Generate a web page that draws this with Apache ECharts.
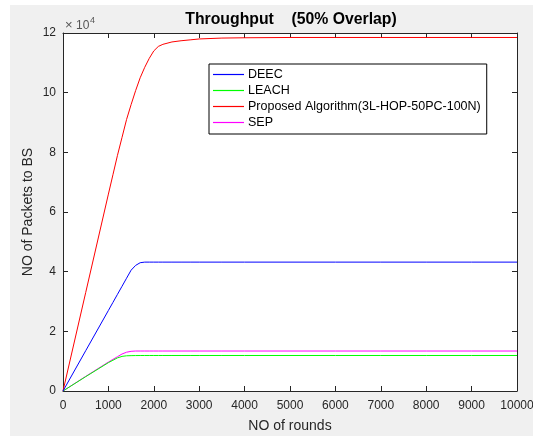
<!DOCTYPE html>
<html>
<head>
<meta charset="utf-8">
<script src="https://cdn.jsdelivr.net/npm/echarts@6/dist/echarts.min.js"></script>
<style>
html,body{margin:0;padding:0;background:#fff;}
#c{width:533px;height:436px;}
</style>
</head>
<body>
<div id="c"></div>
<script>
const rounds = [0, 500, 1000, 1100, 1200, 1300, 1400, 1500, 1600, 1700, 1800, 1900, 2000, 2100, 2200, 2400, 2600, 2800, 3000, 3500, 4000, 5000, 6000, 7000, 8000, 9000, 10000];
const deec     = [0, 13500, 27000, 29700, 32400, 35100, 37800, 40500, 42100, 43000, 43200, 43200, 43200, 43200, 43200, 43200, 43200, 43200, 43200, 43200, 43200, 43200, 43200, 43200, 43200, 43200, 43200];
const leach    = [0, 4800, 9500, 10300, 11100, 11600, 11800, 11850, 11880, 11890, 11900, 11900, 11900, 11900, 11900, 11900, 11900, 11900, 11900, 11900, 11900, 11900, 11900, 11900, 11900, 11900, 11900];
const proposed = [0, 33000, 66000, 72500, 79000, 85000, 91000, 96000, 100700, 105000, 108500, 111500, 114000, 115500, 116200, 117000, 117400, 117700, 118000, 118300, 118400, 118500, 118500, 118500, 118500, 118500, 118500];
const sep      = [0, 4900, 9700, 10600, 11500, 12400, 13000, 13300, 13400, 13400, 13400, 13400, 13400, 13400, 13400, 13400, 13400, 13400, 13400, 13400, 13400, 13400, 13400, 13400, 13400, 13400, 13400];
const seriesNames = ['DEEC', 'LEACH', 'Proposed Algorithm(3L-HOP-50PC-100N)', 'SEP'];
const seriesColors = ['#0000ff', '#00ff00', '#ff0000', '#ff00ff'];
const seriesValues = [deec, leach, proposed, sep];
const xTicks = [0, 10000, 1000];
const yTicks = [0, 120000, 20000];

const chart = echarts.init(document.getElementById('c'), null, {renderer: 'canvas'});
const font = 'Liberation Sans, Arial, Helvetica, sans-serif';
const axisColor = '#262626';

const series = seriesNames.map((n, i) => ({
  name: n,
  type: 'line',
  showSymbol: false,
  symbol: 'none',
  smooth: false,
  color: seriesColors[i],
  itemStyle: {color: seriesColors[i]},
  lineStyle: {width: 1, color: seriesColors[i]},
  data: rounds.map((r, j) => [r, seriesValues[i][j]]),
  z: 10 - i
}));

function tick() { return {show: true, inside: true, length: 5, lineStyle: {color: axisColor, width: 1}}; }
function line() { return {show: true, onZero: false, lineStyle: {color: axisColor, width: 1}}; }

chart.setOption({
  animation: false,
  backgroundColor: '#ffffff',
  textStyle: {fontFamily: font},
  graphic: [
    {type: 'rect', shape: {x: 10, y: 5, width: 523, height: 431}, style: {fill: '#f0f0f0'}, z: -100, silent: true},
    {type: 'text', x: 291, y: 20, style: {text: 'Throughput    (50% Overlap)', fontFamily: font, fontSize: 15.8, fontWeight: 'bold', fill: '#000', align: 'center', verticalAlign: 'middle'}, z: 50},
    {type: 'text', x: 65, y: 31.5, style: {text: '×', fontFamily: font, fontSize: 13, fill: '#555', align: 'left', verticalAlign: 'bottom'}, z: 50},
    {type: 'text', x: 76, y: 31.5, style: {text: '10', fontFamily: font, fontSize: 12, fill: '#555', align: 'left', verticalAlign: 'bottom'}, z: 50},
    {type: 'text', x: 90, y: 25.5, style: {text: '4', fontFamily: font, fontSize: 9, fill: '#555', align: 'left', verticalAlign: 'bottom'}, z: 50}
  ],
  legend: {
    orient: 'vertical',
    left: 209, top: 64,
    backgroundColor: '#fff',
    borderColor: '#000', borderWidth: 1,
    padding: [4, 6, 5, 4],
    itemGap: 3,
    itemWidth: 31, itemHeight: 1.2,
    icon: 'rect',
    itemStyle: {borderWidth: 0},
    textStyle: {fontSize: 12.5, lineHeight: 12, height: 12, color: '#000', fontFamily: font, padding: [0, 0, 0, -1]},
    data: seriesNames.map((n, i) => ({name: n, itemStyle: {color: seriesColors[i], borderWidth: 0}}))
  },
  grid: {left: 63, top: 33, right: 16, bottom: 45, show: true, backgroundColor: '#fff', borderWidth: 0, outerBoundsMode: 'none', containLabel: false},
  xAxis: [{
    type: 'value', min: xTicks[0], max: xTicks[1], interval: xTicks[2],
    name: 'NO of rounds', nameLocation: 'middle', nameGap: 28,
    nameTextStyle: {fontSize: 14, color: '#262626', fontFamily: font},
    axisLine: line(),
    axisTick: tick(),
    axisLabel: {fontSize: 12, color: '#262626', margin: 9, fontFamily: font, showMaxLabel: true, formatter: v => String(v)},
    splitLine: {show: false}
  }, {
    type: 'value', position: 'top', min: xTicks[0], max: xTicks[1], interval: xTicks[2],
    axisLine: line(),
    axisTick: tick(),
    axisLabel: {show: false}, splitLine: {show: false}
  }],
  yAxis: [{
    type: 'value', min: yTicks[0], max: yTicks[1], interval: yTicks[2],
    name: 'NO of Packets to BS', nameLocation: 'middle', nameGap: 28, nameRotate: 90, nameMoveOverlap: false,
    nameTextStyle: {fontSize: 14, color: '#262626', fontFamily: font},
    axisLine: line(),
    axisTick: tick(),
    axisLabel: {fontSize: 12, color: '#262626', margin: 7, fontFamily: font, formatter: v => String(v / 10000)},
    splitLine: {show: false}
  }, {
    type: 'value', position: 'right', min: yTicks[0], max: yTicks[1], interval: yTicks[2],
    axisLine: line(),
    axisTick: tick(),
    axisLabel: {show: false}, splitLine: {show: false}
  }],
  series: series
});
</script>
</body>
</html>
